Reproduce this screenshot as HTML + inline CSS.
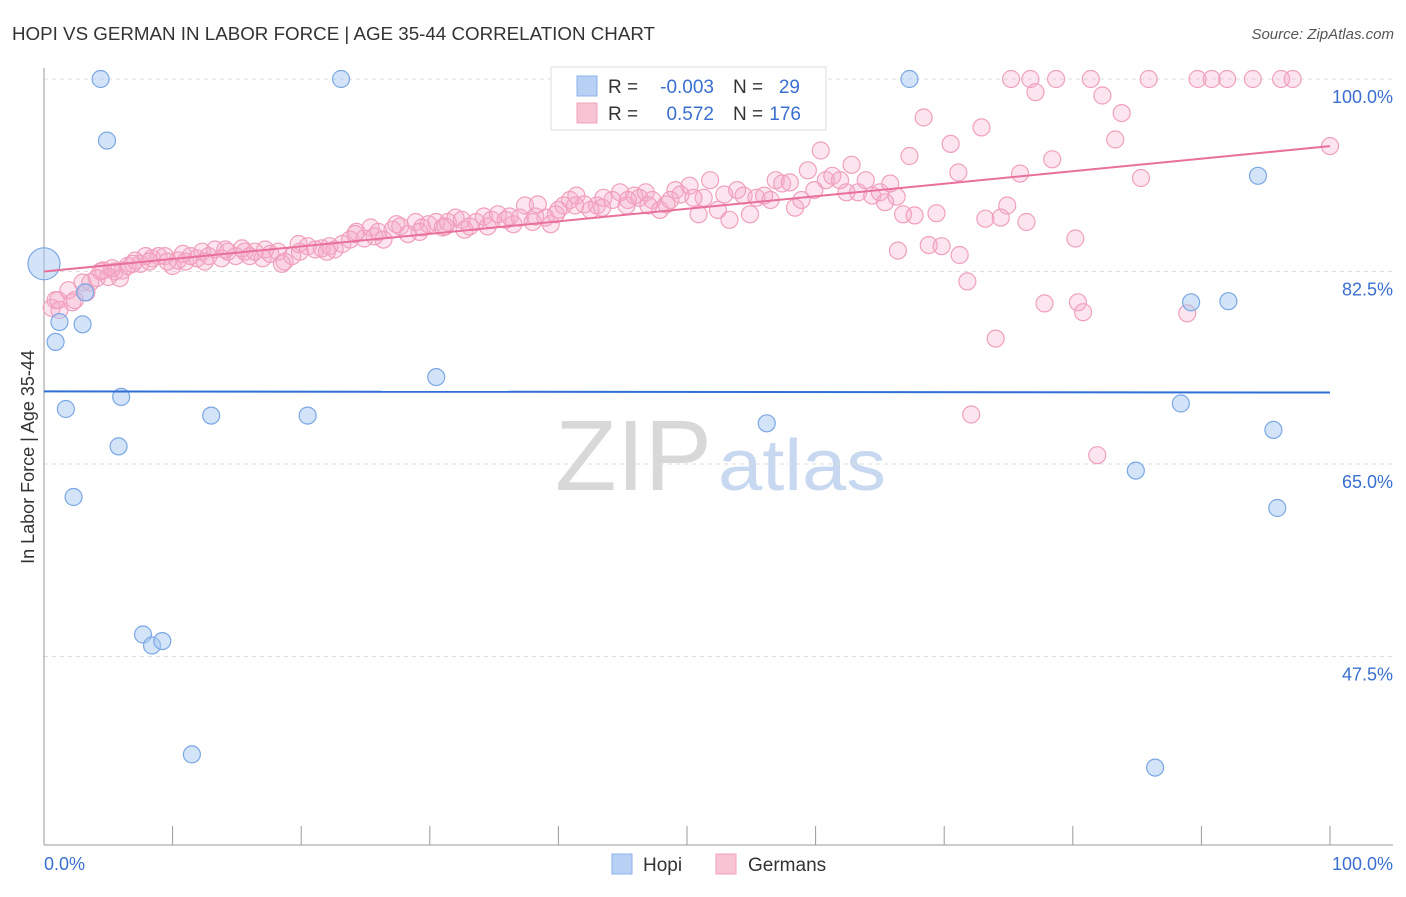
<!DOCTYPE html>
<html><head><meta charset="utf-8"><style>
body{margin:0;background:#fff;font-family:"Liberation Sans",sans-serif;}
svg text{font-family:"Liberation Sans",sans-serif;}
</style></head><body>
<svg id="chart" width="1406" height="892" xmlns="http://www.w3.org/2000/svg">
<text x="12" y="40" font-size="18" fill="#333" textLength="643" lengthAdjust="spacingAndGlyphs">HOPI VS GERMAN IN LABOR FORCE | AGE 35-44 CORRELATION CHART</text>
<text x="1394" y="39" font-size="15" fill="#555" text-anchor="end" font-style="italic">Source: ZipAtlas.com</text>
<text x="555" y="490" font-size="100" fill="#d8d8d8" font-family="Liberation Serif" textLength="157" lengthAdjust="spacingAndGlyphs">ZIP</text>
<text x="718" y="490" font-size="72" fill="#c8d8f0" textLength="168" lengthAdjust="spacingAndGlyphs">atlas</text>
<g id="grid"></g><g id="axes"></g><g id="marks"></g>
<text transform="translate(34,457) rotate(-90)" font-size="18" fill="#333" text-anchor="middle">In Labor Force | Age 35-44</text>
<g>
<rect x="551" y="67" width="275" height="63" fill="#fff" stroke="#ddd"/>
<rect x="577" y="76" width="20" height="20" fill="#b8d0f4" stroke="#8ab4e8"/>
<rect x="577" y="103" width="20" height="20" fill="#f8c4d4" stroke="#f0a0bc"/>
<text x="608" y="93" font-size="19" fill="#333">R =</text>
<text x="714" y="93" font-size="19" fill="#3a6fd0" text-anchor="end">-0.003</text>
<text x="733" y="93" font-size="19" fill="#333">N =</text>
<text x="800" y="93" font-size="19" fill="#3a6fd0" text-anchor="end">29</text>
<text x="608" y="120" font-size="19" fill="#333">R =</text>
<text x="714" y="120" font-size="19" fill="#3a6fd0" text-anchor="end">0.572</text>
<text x="733" y="120" font-size="19" fill="#333">N =</text>
<text x="801" y="120" font-size="19" fill="#3a6fd0" text-anchor="end">176</text>
</g>
<g>
<rect x="612" y="854" width="20" height="20" fill="#b8d0f4" stroke="#8ab4e8"/>
<text x="643" y="871" font-size="19" fill="#333">Hopi</text>
<rect x="716" y="854" width="20" height="20" fill="#f8c4d4" stroke="#f0a0bc"/>
<text x="748" y="871" font-size="19" fill="#333">Germans</text>
</g>
</svg>
<script>
const yTicks=[100,82.5,65,47.5];
const yTickLabels=["100.0%","82.5%","65.0%","47.5%"];
const xTickLabels=["0.0%","100.0%"];
const hopiX=[0,4.4,23.1,67.3,4.9,0.9,1.2,3.0,3.2,1.7,6.0,5.8,13.0,20.5,30.5,2.3,7.7,8.4,9.2,11.5,56.2,92.1,89.2,88.4,95.6,94.4,84.9,95.9,86.4];
const hopiY=[83.2,100,100,100,94.4,76.1,77.9,77.7,80.6,70.0,71.1,66.6,69.4,69.4,72.9,62.0,49.5,48.5,48.9,38.6,68.7,79.8,79.7,70.5,68.1,91.2,64.4,61.0,37.4];
const gerX=[75.2,76.7,78.7,81.4,85.9,89.7,90.8,92.0,94.0,96.2,97.1,77.1,82.3,83.8,83.3,68.4,72.9,70.5,78.4,75.9,85.3,100,67.3,71.1,60.4,62.8,66.3,66.8,67.7,69.4,73.2,74.4,74.9,76.4,80.2,66.4,68.8,69.8,71.2,71.8,74.0,77.8,80.4,80.8,88.9,72.1,81.9,
0.6,1.1,1.9,2.4,3.0,3.6,4.1,4.6,5.0,5.5,6.1,6.5,7.1,7.5,7.9,8.4,8.9,9.4,10.0,10.4,11.0,11.4,11.9,12.3,12.8,13.3,13.8,14.3,14.9,15.4,16.0,16.4,17.0,17.6,18.2,18.7,19.3,19.9,20.5,21.1,21.6,22.2,22.6,23.2,23.8,24.3,24.9,25.4,26.0,26.4,27.1,27.7,28.3,28.9,29.4,29.9,30.5,31.0,31.4,32.0,32.5,33.1,33.6,34.2,34.8,35.3,35.9,36.5,37.0,37.4,38.0,38.4,39.0,39.4,40.0,40.4,40.9,41.4,42.0,42.5,43.0,43.5,44.2,44.8,45.3,45.9,46.3,46.8,47.3,47.9,48.4,49.1,49.5,50.2,50.9,51.3,51.8,52.4,52.9,53.3,53.9,54.4,54.9,55.4,56.0,56.5,56.9,57.4,58.0,58.4,58.9,59.4,59.9,60.8,61.3,61.9,62.4,63.3,63.9,64.4,65.0,65.4,65.8,
0.9,1.2,2.2,3.3,4.4,5.3,5.9,6.9,8.2,9.6,10.8,12.5,14.1,15.6,17.2,18.5,19.8,22.0,24.2,25.7,27.4,29.2,31.2,32.7,34.5,36.2,38.2,39.8,41.3,43.4,45.4,47.0,48.7,50.5];
const gerY=[100,100,100,100,100,100,100,100,100,100,100,98.8,98.5,96.9,94.5,96.5,95.6,94.1,92.7,91.4,91.0,93.9,93.0,91.5,93.5,92.2,89.3,87.7,87.6,87.8,87.3,87.4,88.5,87.0,85.5,84.4,84.9,84.8,84.0,81.6,76.4,79.6,79.7,78.8,78.7,69.5,65.8,
79.2,79.9,80.8,79.9,81.5,81.5,81.9,82.6,82.0,82.5,82.6,83.0,83.5,83.2,83.9,83.7,83.9,83.9,83.0,83.5,83.4,83.9,83.7,84.3,83.9,84.5,83.7,84.3,83.9,84.6,83.9,84.3,83.7,84.1,84.3,83.4,83.9,84.3,84.8,84.5,84.6,84.8,84.5,85.0,85.4,86.1,85.5,86.5,86.1,85.4,86.3,86.6,85.9,87.0,86.5,86.8,87.0,86.5,87.0,87.4,87.2,86.6,87.0,87.5,87.2,87.7,87.2,86.8,87.4,88.5,87.0,88.6,87.4,86.8,88.1,88.5,89.0,89.4,88.6,88.1,88.5,89.2,89.0,89.7,88.5,89.4,89.2,89.7,89.0,88.1,88.6,89.9,89.5,90.3,87.7,89.2,90.8,88.1,89.5,87.2,89.9,89.4,87.7,89.2,89.4,89.0,90.8,90.5,90.6,88.3,89.0,91.7,89.9,90.8,91.2,90.8,89.7,89.7,90.8,89.4,89.7,88.8,90.5,
79.9,79.0,79.7,80.6,82.5,82.8,81.9,83.2,83.4,83.4,84.1,83.4,84.5,84.3,84.5,83.2,85.0,84.3,85.9,85.7,86.8,86.1,86.6,86.3,86.6,87.5,87.5,87.7,88.5,88.3,89.0,88.5,89.0,89.2];
const hopiTrend=[71.6,71.5];
const gerTrend=[82.5,93.9];
const NS="http://www.w3.org/2000/svg";
const X0=44,X1=1330,Y100=79,PX=11;
const xs=v=>X0+(X1-X0)*v/100;
const ys=v=>Y100+(100-v)*PX;
function mk(tag,attrs,parent){const e=document.createElementNS(NS,tag);for(const k in attrs)e.setAttribute(k,attrs[k]);parent.appendChild(e);return e;}
const grid=document.getElementById('grid'),axes=document.getElementById('axes'),marks=document.getElementById('marks');
yTicks.forEach((t,i)=>{
 const l=mk('line',{x1:X0,x2:1393,y1:ys(t),y2:ys(t),stroke:'#ddd','stroke-dasharray':'4,4'},grid);
 
 
 const tx=mk('text',{x:1393,y:ys(t)+24,'font-size':18,fill:'#3a6fd0','text-anchor':'end'},axes);
 tx.textContent=yTickLabels[i];
 
 
});
let a=mk('line',{x1:X0,x2:1393,y1:845,y2:845,stroke:'#999'},axes);


a=mk('line',{x1:X0,x2:X0,y1:68,y2:845,stroke:'#999'},axes);


for(let i=0;i<=10;i++){const t=mk('line',{x1:xs(i*10),x2:xs(i*10),y1:826,y2:845,stroke:'#999'},axes);
 
 }
[[0,'start',44],[100,'end',1393]].forEach((d,i)=>{const t=mk('text',{x:d[2],y:870,'font-size':18,fill:'#3a6fd0','text-anchor':d[1]},axes);t.textContent=xTickLabels[i];
 
 });
gerX.forEach((x,i)=>{const c=mk('circle',{cx:xs(x),cy:ys(gerY[i]),r:8.5,fill:'rgba(246,170,198,0.3)',stroke:'#f0a0bc','stroke-width':1.2},marks);
 
 });
hopiX.forEach((x,i)=>{const c=mk('circle',{cx:xs(x),cy:ys(hopiY[i]),r:i==0?16:8.5,fill:'rgba(168,200,242,0.5)',stroke:'#7aa8e4','stroke-width':1.2},marks);
 
 });
let tl=mk('line',{x1:xs(0),x2:xs(100),y1:ys(gerTrend[0]),y2:ys(gerTrend[1]),stroke:'#e8709a','stroke-width':2},marks);


tl=mk('line',{x1:xs(0),x2:xs(100),y1:ys(hopiTrend[0]),y2:ys(hopiTrend[1]),stroke:'#2f6fd6','stroke-width':2},marks);


</script>
</body></html>
